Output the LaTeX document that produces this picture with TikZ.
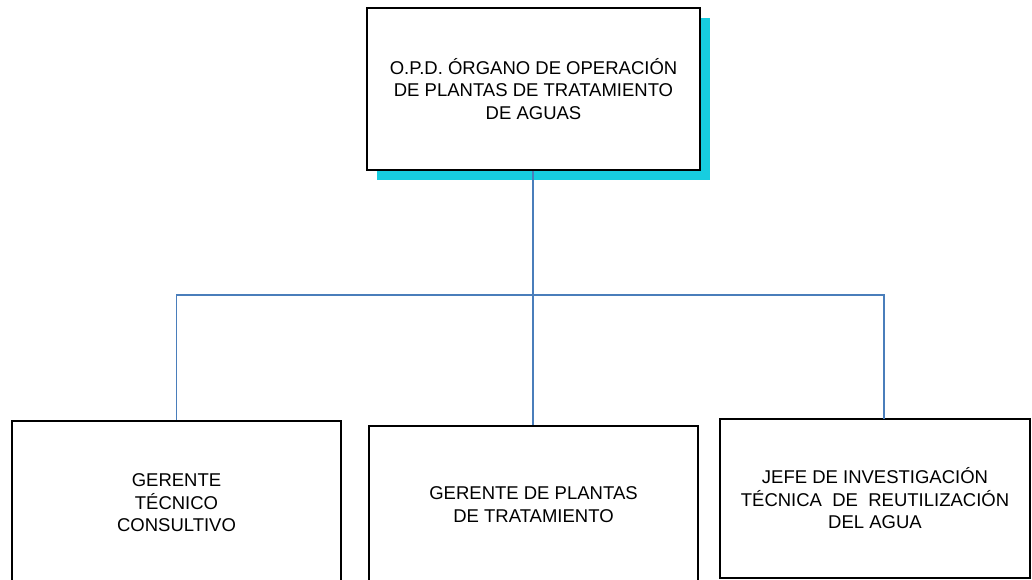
\documentclass[tikz,border=0pt]{standalone}
\usepackage{fontspec}
\setmainfont{Liberation Sans}
\usetikzlibrary{positioning,shadows}

\definecolor{shadowcyan}{HTML}{17CDE0}
\definecolor{linkblue}{HTML}{4A7EBB}

\begin{document}
\begin{tikzpicture}[x=1pt,y=-1pt,
    box/.style={draw=black,line width=2pt,fill=white,align=center,
      font=\fontsize{18.5}{22.5}\selectfont,inner sep=0pt},
    link/.style={draw=linkblue,line width=1.5pt}]
      \useasboundingbox (0,0) rectangle (1032,580);

      \node[box,minimum width=333pt,minimum height=162pt,
        drop shadow={shadow xshift=10pt,shadow yshift=-10pt,fill=shadowcyan,opacity=1}]
        (opd) at (533.5,89) {O.P.D. ÓRGANO DE OPERACIÓN\\DE PLANTAS DE TRATAMIENTO\\DE AGUAS};

      \node[box,minimum width=329pt,minimum height=164pt] (tec) at (176.5,503)
        {GERENTE\\TÉCNICO\\CONSULTIVO};
      \node[box,minimum width=329pt,minimum height=157pt] (plan) at (533.5,504.5)
        {GERENTE DE PLANTAS\\DE TRATAMIENTO};
      \node[box,minimum width=310pt,minimum height=159pt] (jefe) at (875,498.5)
        {JEFE DE INVESTIGACIÓN\\TÉCNICA\ \ DE\ \ REUTILIZACIÓN\\DEL AGUA};

      \coordinate (bus) at (533,295);
      \coordinate (jefetop) at (884,419);

      \path[link]
      (opd.south -| bus) edge (bus)
      (bus) edge (plan.north -| bus)
      ;
      \draw[link] (bus) -| (tec.north);
      \draw[link] (bus) -| (jefetop);
    \end{tikzpicture}
\end{document}
